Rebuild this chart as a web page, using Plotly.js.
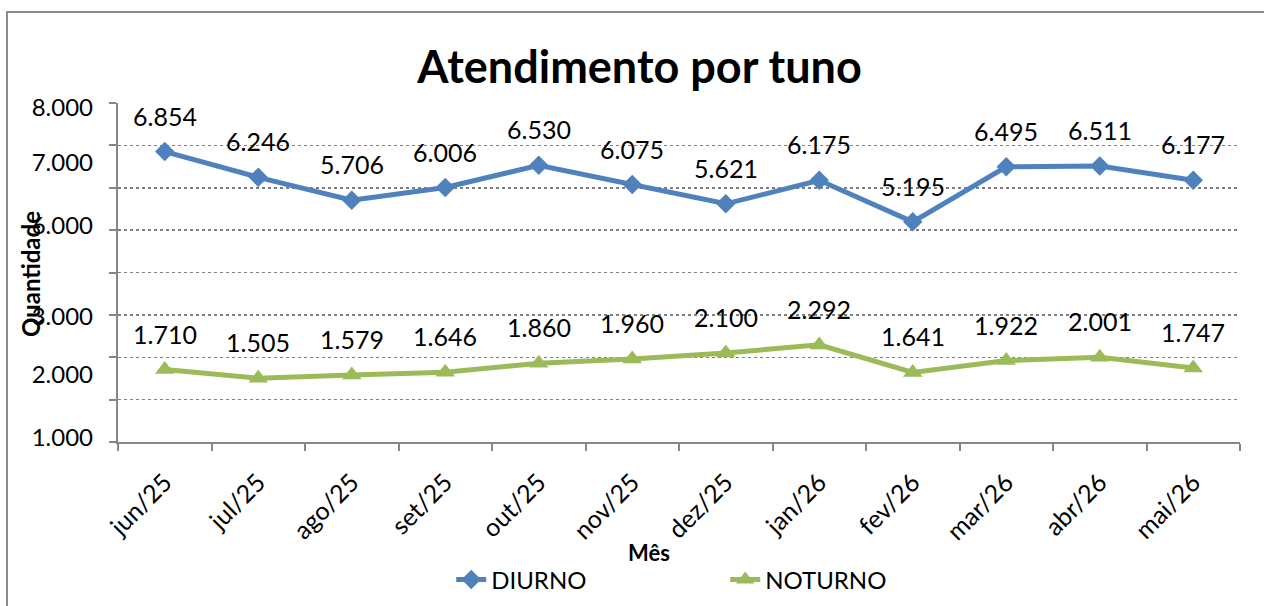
<!DOCTYPE html>
<html>
<head>
<meta charset="utf-8">
<script src="https://cdn.plot.ly/plotly-3.0.1.min.js"></script>
<style>html,body{margin:0;padding:0;background:#fff;overflow:hidden;}
#wrap{position:relative;width:1264px;height:606px;overflow:hidden;}
#chart{width:1264px;height:606px;}
#mask{position:absolute;left:1245px;top:0;width:40px;height:606px;background:#fff;pointer-events:none;}
#frame{position:absolute;left:6px;top:11px;width:1400px;height:700px;border-left:2px solid #8c8c8c;border-top:2px solid #8c8c8c;pointer-events:none;}
</style>
</head>
<body>
<div id="wrap"><div id="chart"></div><div id="mask"></div><div id="frame"></div></div>
<script>
// ---- data ----
var months = ["jun/25","jul/25","ago/25","set/25","out/25","nov/25","dez/25","jan/26","fev/26","mar/26","abr/26","mai/26"];
var diurno = [6854, 6246, 5706, 6006, 6530, 6075, 5621, 6175, 5195, 6495, 6511, 6177];
var noturno = [1710, 1505, 1579, 1646, 1860, 1960, 2100, 2292, 1641, 1922, 2001, 1747];
var gridVals = [0, 1000, 2000, 3000, 4000, 5000, 6000, 7000, 8000];
// tick labels as they appear (misaligned) in the reference
var yLabelVals = [7900, 6600, 5100, 2950, 1600, 100];
var yLabelText = ["8.000", "7.000", "6.000", "3.000", "2.000", "1.000"];

var FONT = "Lato, 'Open Sans', sans-serif";
var BLUE = "#4F81BD", GREEN = "#9BBB59";

function fmt(v){
  var s = String(Math.round(v));
  return s.replace(/\B(?=(\d{3})+(?!\d))/g, ".");
}

var traces = [
  {x: months, y: diurno, name: "DIURNO", type: "scatter", mode: "lines+markers",
   line: {color: BLUE, width: 5}, marker: {symbol: "diamond", size: 15, color: BLUE}},
  {x: months, y: noturno, name: "NOTURNO", type: "scatter", mode: "lines+markers",
   line: {color: GREEN, width: 5}, marker: {symbol: "triangle-up", size: 17, color: GREEN}}
];

var annotations = [];
[diurno, noturno].forEach(function(series){
  series.forEach(function(v, i){
    annotations.push({x: months[i], y: v, xref: "x", yref: "y", text: fmt(v), showarrow: false,
      xanchor: "center", yanchor: "middle",
      yshift: 36, font: {family: FONT, size: 25, color: "#000"}});
  });
});
annotations.push({xref: "paper", yref: "paper", x: 0.473, y: -0.3245, text: "<b>Mês</b>", showarrow: false,
  xanchor: "center", yanchor: "middle", font: {family: FONT, size: 22, color: "#000"}});
annotations.push({xref: "paper", yref: "paper", x: -0.0775, y: 0.4956, text: "<b>Quantidade</b>", showarrow: false,
  xanchor: "center", yanchor: "middle", textangle: -90, font: {family: FONT, size: 24, color: "#000"}});

var layout = {
  width: 1264, height: 606,
  margin: {l: 118, r: 24, t: 103, b: 164, pad: 0, autoexpand: false},
  paper_bgcolor: "#fff", plot_bgcolor: "#fff",
  font: {family: FONT, color: "#000"},
  title: {text: "<b>Atendimento por tuno</b>", font: {family: FONT, size: 45, color: "#000"},
    xref: "container", yref: "container", x: 0.506, y: 0.889, xanchor: "center", yanchor: "middle"},
  showlegend: true,
  legend: {orientation: "h", x: 0.297, y: -0.407, xanchor: "left", yanchor: "middle",
    font: {family: FONT, size: 24, color: "#000"}, entrywidth: 229, entrywidthmode: "pixels",
    bgcolor: "rgba(0,0,0,0)"},
  xaxis: {type: "category", range: [-0.5, 11.5], tickson: "boundaries", ticks: "outside", ticklen: 7,
    tickcolor: "#868686", tickwidth: 2, showline: true, linecolor: "#868686", linewidth: 2,
    showgrid: false, tickangle: -45, ticklabelstandoff: 14,
    tickfont: {family: FONT, size: 25, color: "#000"}, fixedrange: true},
  yaxis: {range: [0, 8000], tickmode: "array", tickvals: gridVals, showticklabels: false,
    ticks: "outside", ticklen: 7, tickcolor: "#868686", tickwidth: 2,
    showline: true, linecolor: "#868686", linewidth: 2,
    showgrid: true, gridcolor: "#7f7f7f", griddash: "dot", gridwidth: 1.5, zeroline: false},
  yaxis2: {overlaying: "y", anchor: "x", side: "left", range: [0, 8000], tickmode: "array",
    tickvals: yLabelVals, ticktext: yLabelText, showgrid: false, showline: false, ticks: "",
    zeroline: false, ticklabelstandoff: 24, tickfont: {family: FONT, size: 24, color: "#000"}},
  annotations: annotations
};

// invisible helper so yaxis2 renders its labels
traces.push({x: [months[0]], y: [0], yaxis: "y2", type: "scatter", mode: "markers",
  marker: {opacity: 0}, showlegend: false, hoverinfo: "skip"});

Plotly.newPlot("chart", traces, layout, {displayModeBar: false, staticPlot: true});
</script>
</body>
</html>
